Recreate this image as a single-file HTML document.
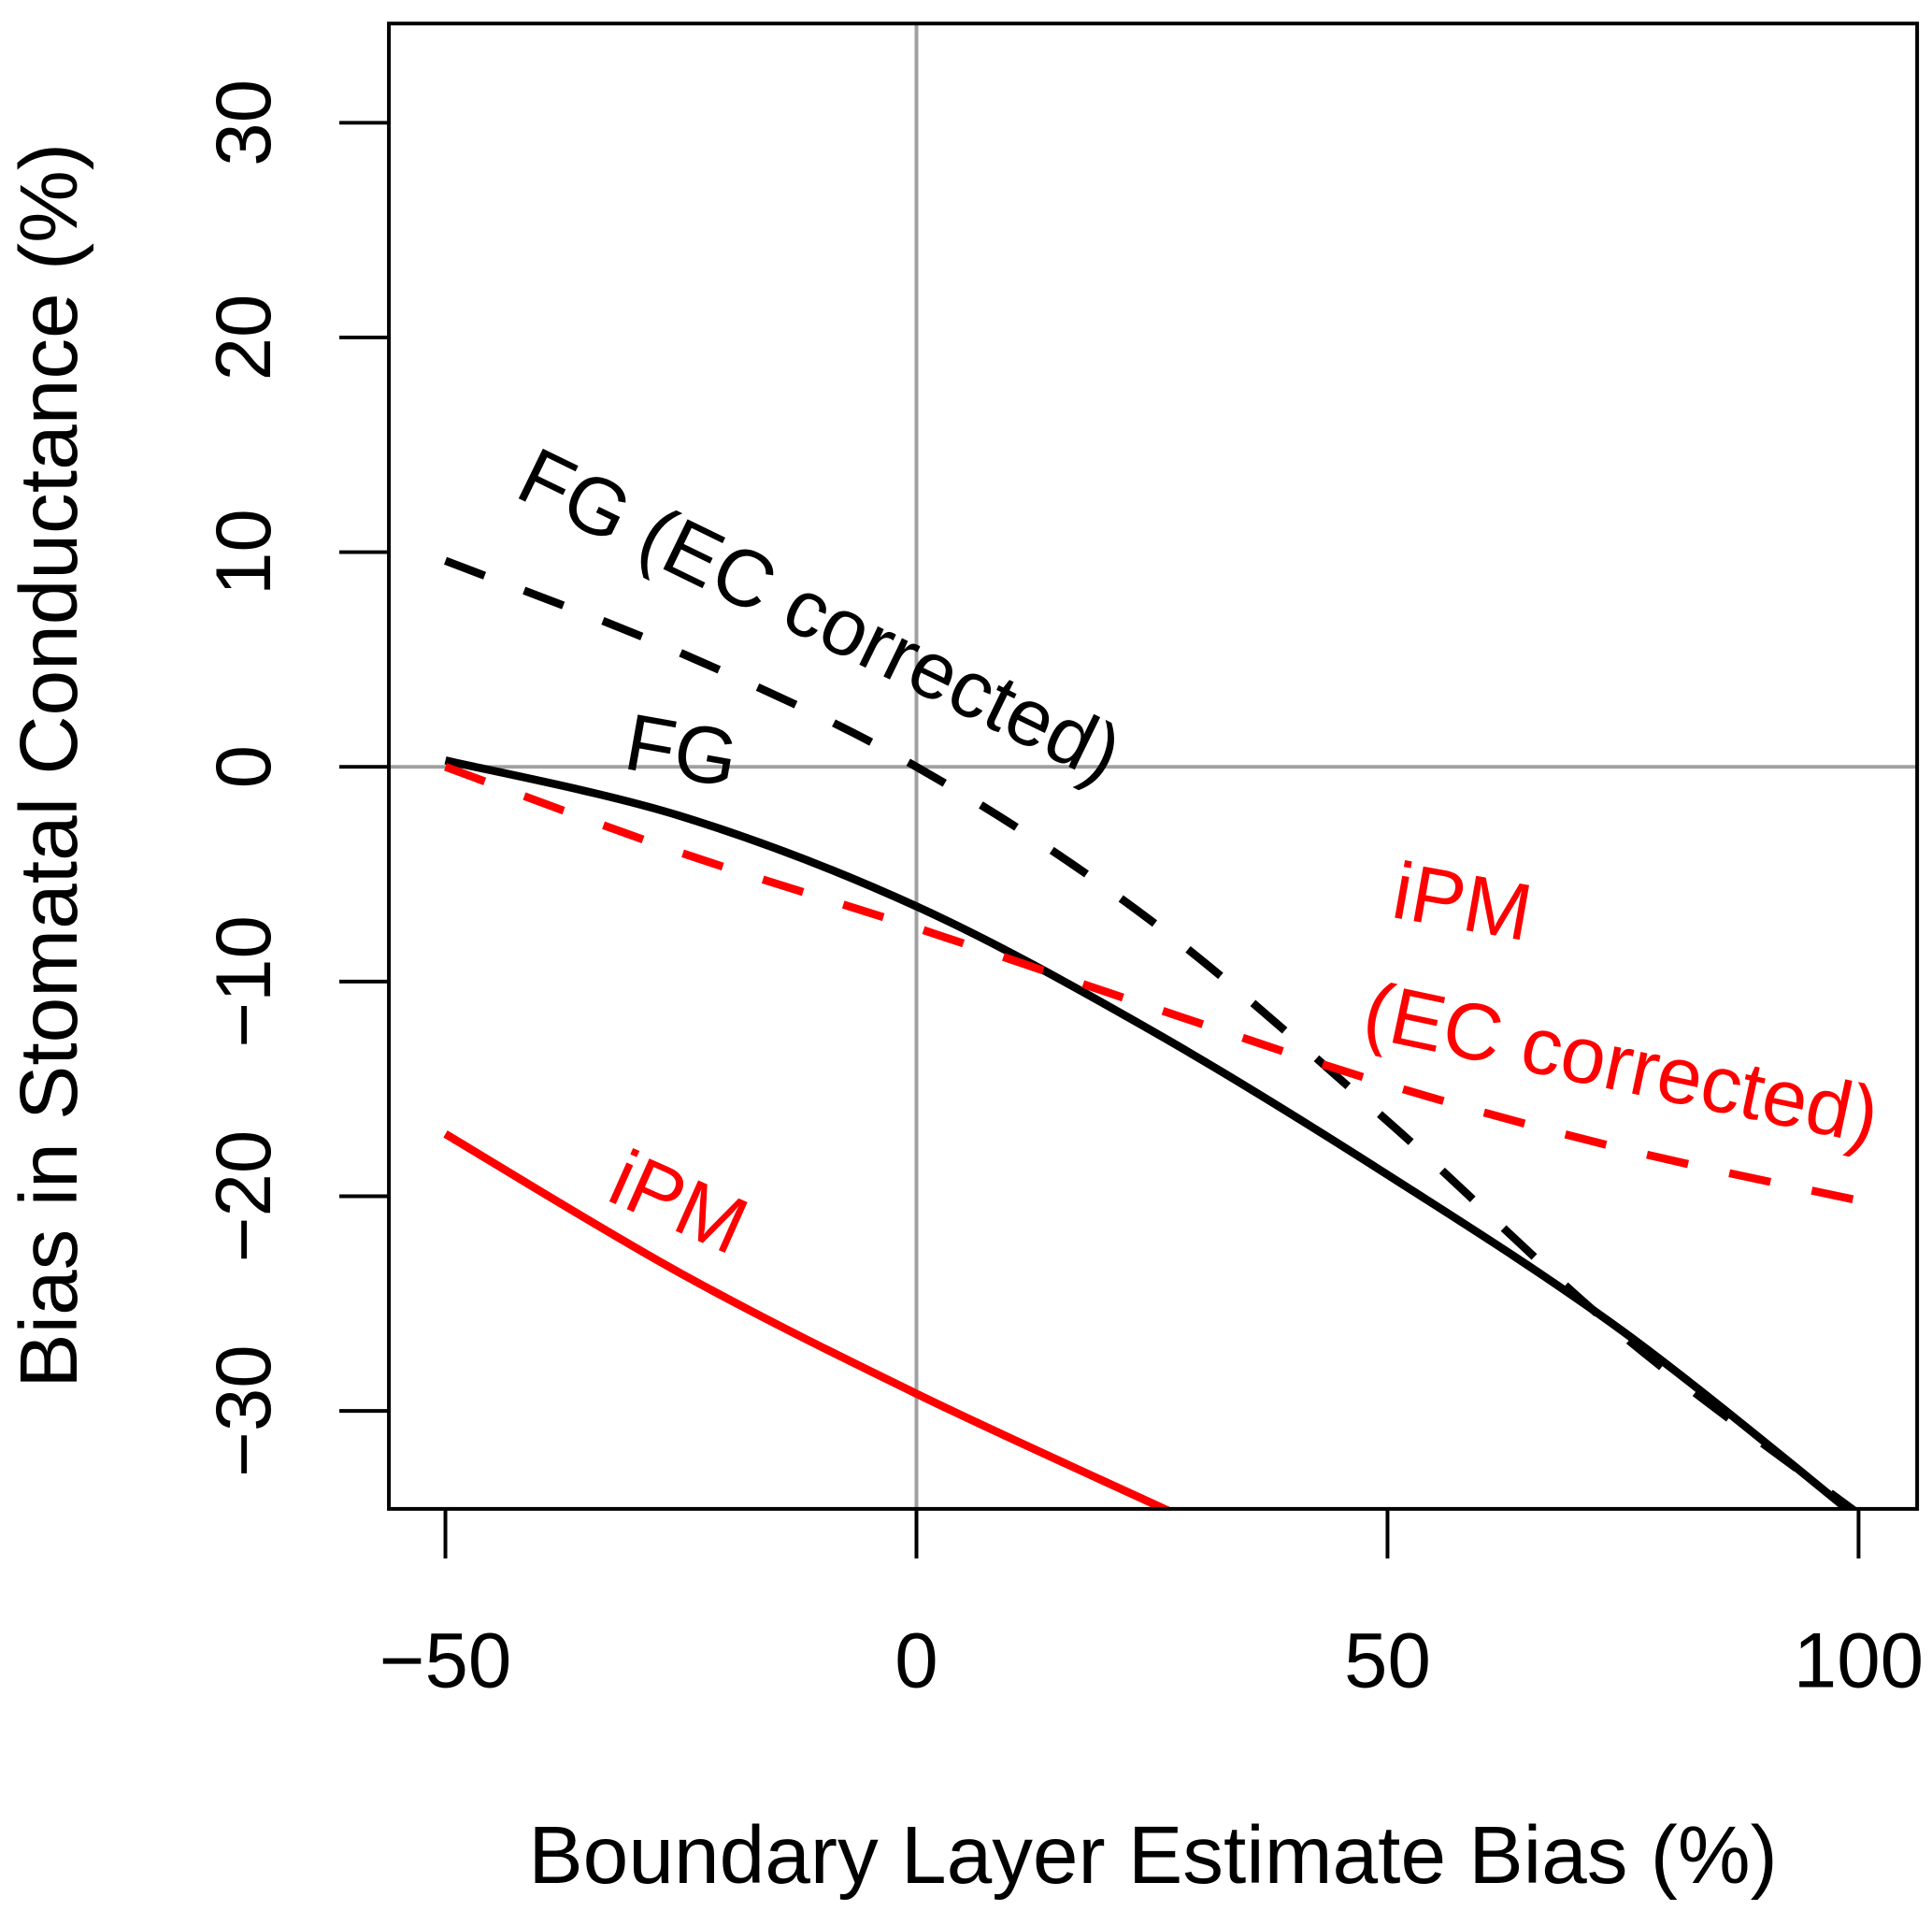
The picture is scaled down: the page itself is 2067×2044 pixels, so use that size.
<!DOCTYPE html>
<html><head><meta charset="utf-8"><style>html,body{margin:0;padding:0;background:#fff}svg{display:block}</style></head>
<body>
<svg id="chart" width="2067" height="2044" viewBox="0 0 1560 1542.6" preserveAspectRatio="none" xmlns="http://www.w3.org/2000/svg" font-family="Liberation Sans, sans-serif">
<g id="grid"></g>
<g id="series"></g>
<g id="axes"></g>
<g id="labels">
<text x="0" y="0" font-size="65" fill="#000" transform="translate(414,400) rotate(26)">FG (EC corrected)</text>
<text x="0" y="0" font-size="65" fill="#000" transform="translate(502,620) rotate(10)">FG</text>
<text x="0" y="0" font-size="65" fill="#f00" transform="translate(1122,740) rotate(10)">iPM</text>
<text x="0" y="0" font-size="65" fill="#f00" transform="translate(1098,836) rotate(12)">(EC corrected)</text>
<text x="0" y="0" font-size="65" fill="#f00" transform="translate(488,968) rotate(24)">iPM</text>
<text x="931" y="1520" font-size="66" text-anchor="middle">Boundary Layer Estimate Bias (%)</text>
<text x="0" y="0" font-size="66" text-anchor="middle" transform="translate(62,618) rotate(-90)">Bias in Stomatal Conductance (%)</text>
</g>
</svg>
<script>
const xTicks = [-50, 0, 50, 100];
const yTicks = [-30, -20, -10, 0, 10, 20, 30];
const xs = [-50, -25, 0, 25, 50, 75, 100];
const fgSolid = [0.3, -2.3, -6.5, -12.3, -19, -26.3, -35];
const fgDashed = [9.6, 5.3, 0, -7.2, -16.5, -26.5, -34.8];
const ipmDashed = [0, -4, -7.5, -11.2, -14.8, -17.8, -20.2];
const ipmSolidX = [-50, -25, 0, 25, 28.5];
const ipmSolid = [-17.1, -23.6, -29.2, -34.3, -35];

const L=314,R=1548,T=19,B=1218;
const sx=v=>740+v*7.607;
const sy=v=>619-v*17.33;
const NS='http://www.w3.org/2000/svg';
function mk(tag,attrs,parent){const e=document.createElementNS(NS,tag);for(const k in attrs)e.setAttribute(k,attrs[k]);parent.appendChild(e);return e;}
const grid=document.getElementById('grid'),series=document.getElementById('series'),axes=document.getElementById('axes');

let g1=mk('line',{x1:sx(0),x2:sx(0),y1:T,y2:B,stroke:'#a0a0a0','stroke-width':3},grid);


let g2=mk('line',{x1:L,x2:R,y1:sy(0),y2:sy(0),stroke:'#a0a0a0','stroke-width':3},grid);



function smooth(xv,yv){const p=xv.map((x,i)=>[sx(x),sy(yv[i])]);let d='M'+p[0][0]+','+p[0][1];
for(let i=0;i<p.length-1;i++){const p0=p[i-1]||p[i],p1=p[i],p2=p[i+1],p3=p[i+2]||p2;
d+=' C'+(p1[0]+(p2[0]-p0[0])/6)+','+(p1[1]+(p2[1]-p0[1])/6)+' '+(p2[0]-(p3[0]-p1[0])/6)+','+(p2[1]-(p3[1]-p1[1])/6)+' '+p2[0]+','+p2[1];}
return d;}
const clip=mk('clipPath',{id:'pc'},series);mk('rect',{x:L,y:T,width:R-L,height:B-T},clip);
let s1=mk('path',{d:smooth(xs,fgSolid),fill:'none',stroke:'#000','stroke-width':6.5,'clip-path':'url(#pc)'},series);


let s2=mk('path',{d:smooth(xs,fgDashed),fill:'none',stroke:'#000','stroke-width':6.5,'stroke-dasharray':'34 34','clip-path':'url(#pc)'},series);


let s3=mk('path',{d:smooth(xs,ipmDashed),fill:'none',stroke:'#f00','stroke-width':6.5,'stroke-dasharray':'34 34','clip-path':'url(#pc)'},series);


let s4=mk('path',{d:smooth(ipmSolidX,ipmSolid),fill:'none',stroke:'#f00','stroke-width':6.5,'clip-path':'url(#pc)'},series);



let box=mk('rect',{x:L,y:T,width:R-L,height:B-T,fill:'none',stroke:'#000','stroke-width':3},axes);


xTicks.forEach(v=>{
 let t=mk('line',{x1:sx(v),x2:sx(v),y1:B,y2:B+40,stroke:'#000','stroke-width':3},axes);
 
 
 let l=mk('text',{x:sx(v),y:1362,'font-size':63,'text-anchor':'middle'},axes);
 l.textContent=(v<0?'\u2212'+(-v):''+v);
 
 
});
yTicks.forEach(v=>{
 let t=mk('line',{x1:L-40,x2:L,y1:sy(v),y2:sy(v),stroke:'#000','stroke-width':3},axes);
 
 
 let l=mk('text',{x:0,y:0,'font-size':63,'text-anchor':'middle',transform:'translate(218,'+sy(v)+') rotate(-90)'},axes);
 l.textContent=(v<0?'\u2212'+(-v):''+v);
 
 
});
</script>
</body></html>
